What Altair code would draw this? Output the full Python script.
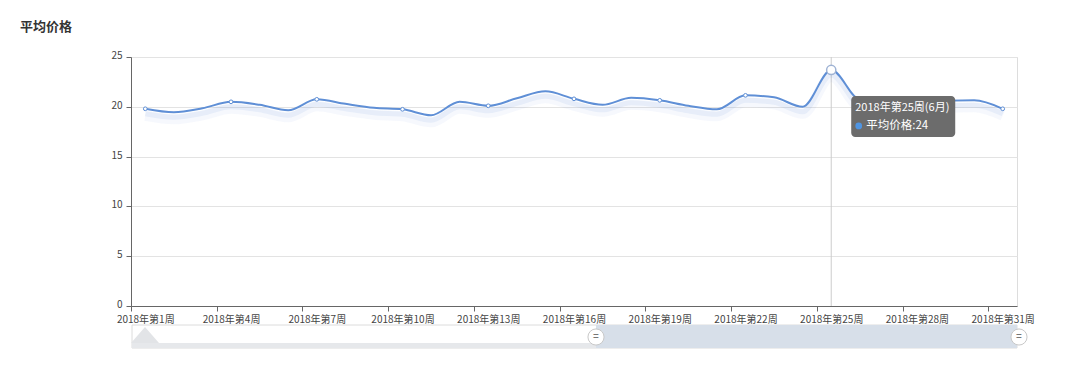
import altair as alt
import pandas as pd

# ---- data ----
weeks = list(range(1, 32))
prices = [19.8, 19.45, 19.85, 20.5, 20.2, 19.65, 20.75, 20.3, 19.9, 19.75,
          19.15, 20.5, 20.1, 20.85, 21.55, 20.8, 20.2, 20.9, 20.65, 20.1,
          19.75, 21.15, 20.95, 20.0, 23.7, 20.7, 20.45, 20.5, 20.6, 20.65, 19.8]
label_weeks = [1, 4, 7, 10, 13, 16, 19, 22, 25, 28, 31]
y_ticks = [0, 5, 10, 15, 20, 25]
series_name = "平均价格"
tip_week = 25
tip_label = "2018年第25周(6月)"
tip_value = 24

FONT = "Noto Sans CJK SC"
LINE = "#5f8fd6"

df = pd.DataFrame({"week": weeks, "price": prices})
df["marker"] = df["week"].isin(label_weeks) & (df["week"] != tip_week)
tip = df[df["week"] == tip_week].copy()
tip["label"] = tip_label
tip["text2"] = f"{series_name}:{tip_value}"

x = alt.X(
    "week:Q",
    scale=alt.Scale(domain=[0.5, 31.5], nice=False, zero=False),
    axis=alt.Axis(
        values=[w - 0.5 for w in label_weeks],
        labelExpr='"2018年第" + (datum.value + 0.5) + "周"',
        labelOffset=14.3,
        labelOverlap=False,
        labelBound=False,
        labelFlush=False,
        grid=False,
        title=None,
        tickSize=5,
        tickColor="#666",
        domainColor="#666",
        labelColor="#444",
        labelFontSize=10,
        labelFont=FONT,
        labelPadding=3,
    ),
)
y = alt.Y(
    "price:Q",
    scale=alt.Scale(domain=[0, 25], nice=False),
    axis=alt.Axis(
        values=y_ticks,
        title=None,
        grid=True,
        gridColor="#e3e3e3",
        tickSize=5,
        tickColor="#666",
        domainColor="#666",
        labelColor="#444",
        labelFontSize=10,
        labelFont=FONT,
        labelPadding=4,
        labelOffset=-1.5,
    ),
)

base = alt.Chart(df)

pointer = alt.Chart(tip).mark_rule(color="#cccccc", strokeWidth=1).encode(
    x=x, y=alt.value(0), y2=alt.value(249)
)

glow1 = base.mark_line(interpolate="monotone", color=LINE, strokeWidth=10,
                       opacity=0.06, yOffset=7).encode(x=x, y=y)
glow2 = base.mark_line(interpolate="monotone", color=LINE, strokeWidth=5,
                       opacity=0.1, yOffset=5).encode(x=x, y=y)
line = base.mark_line(interpolate="monotone", color=LINE, strokeWidth=2).encode(x=x, y=y)

markers = base.transform_filter("datum.marker").mark_circle(
    fill="white", stroke=LINE, strokeWidth=1, size=14, opacity=1
).encode(x=x, y=y)

big = alt.Chart(tip).mark_circle(
    fill="white", stroke="#9fb3d4", strokeWidth=1.5, size=85, opacity=1
).encode(x=x, y=y)

tip_box = alt.Chart(tip).mark_rect(
    fill="#6c6c6c", cornerRadius=4, xOffset=20, x2Offset=124, yOffset=26, y2Offset=67
).encode(x=x, x2="week:Q", y=y, y2="price:Q")
tip_t1 = alt.Chart(tip).mark_text(
    align="left", baseline="middle", color="white", fontSize=11, font=FONT,
    xOffset=24, yOffset=38
).encode(x=x, y=y, text="label:N")
tip_dot = alt.Chart(tip).mark_circle(
    color="#4f95e3", size=45, opacity=1, xOffset=27.5, yOffset=56
).encode(x=x, y=y)
tip_t2 = alt.Chart(tip).mark_text(
    align="left", baseline="middle", color="white", fontSize=11.5, font=FONT,
    xOffset=35, yOffset=56
).encode(x=x, y=y, text="text2:N")

title = alt.Chart(pd.DataFrame({"t": [series_name]})).mark_text(
    align="left", baseline="middle", fontSize=13, fontWeight="bold",
    color="#333", font=FONT
).encode(text="t:N", x=alt.value(-111), y=alt.value(-30))

# ---- data-zoom slider (UI chrome) ----
ui = pd.DataFrame({"k": [0]})
slider_bg = alt.Chart(ui).mark_rect(fill="white", stroke="#dcdcdc", strokeWidth=1).encode(
    x=alt.value(1), x2=alt.value(886), y=alt.value(268), y2=alt.value(291)
)
slider_strip = alt.Chart(ui).mark_rect(fill="#e6e8eb").encode(
    x=alt.value(1), x2=alt.value(886), y=alt.value(286), y2=alt.value(291)
)
slider_sel = alt.Chart(ui).mark_rect(fill="#d7dfe9").encode(
    x=alt.value(465), x2=alt.value(886), y=alt.value(268), y2=alt.value(291)
)
shadow = alt.Chart(ui).mark_point(
    shape="M-1,0.57L0,-0.57L1,0.57Z", filled=True, fill="#e2e4e7", size=784, opacity=1
).encode(x=alt.value(14), y=alt.value(278))
handles = alt.Chart(pd.DataFrame({"h": [465, 888]})).mark_circle(
    fill="white", stroke="#c8c8c8", strokeWidth=1, size=260, opacity=1
).encode(x=alt.X("h:Q", scale=None), y=alt.value(280))
handle_txt = alt.Chart(pd.DataFrame({"h": [465, 888]})).mark_text(
    text="=", fontSize=10, color="#777", baseline="middle", align="center"
).encode(x=alt.X("h:Q", scale=None), y=alt.value(280))

chart = alt.layer(
    pointer, glow1, glow2, line, markers, big,
    tip_box, tip_t1, tip_dot, tip_t2, title,
    slider_bg, slider_strip, slider_sel, shadow, handles, handle_txt,
).properties(
    width=886, height=249,
    padding={"left": 123, "top": 49, "right": 40, "bottom": 50},
    autosize=alt.AutoSizeParams(type="none"),
).configure_view(stroke=None).configure(background="white")

chart.save("out.html", embed_options={"renderer": "svg", "actions": False})
